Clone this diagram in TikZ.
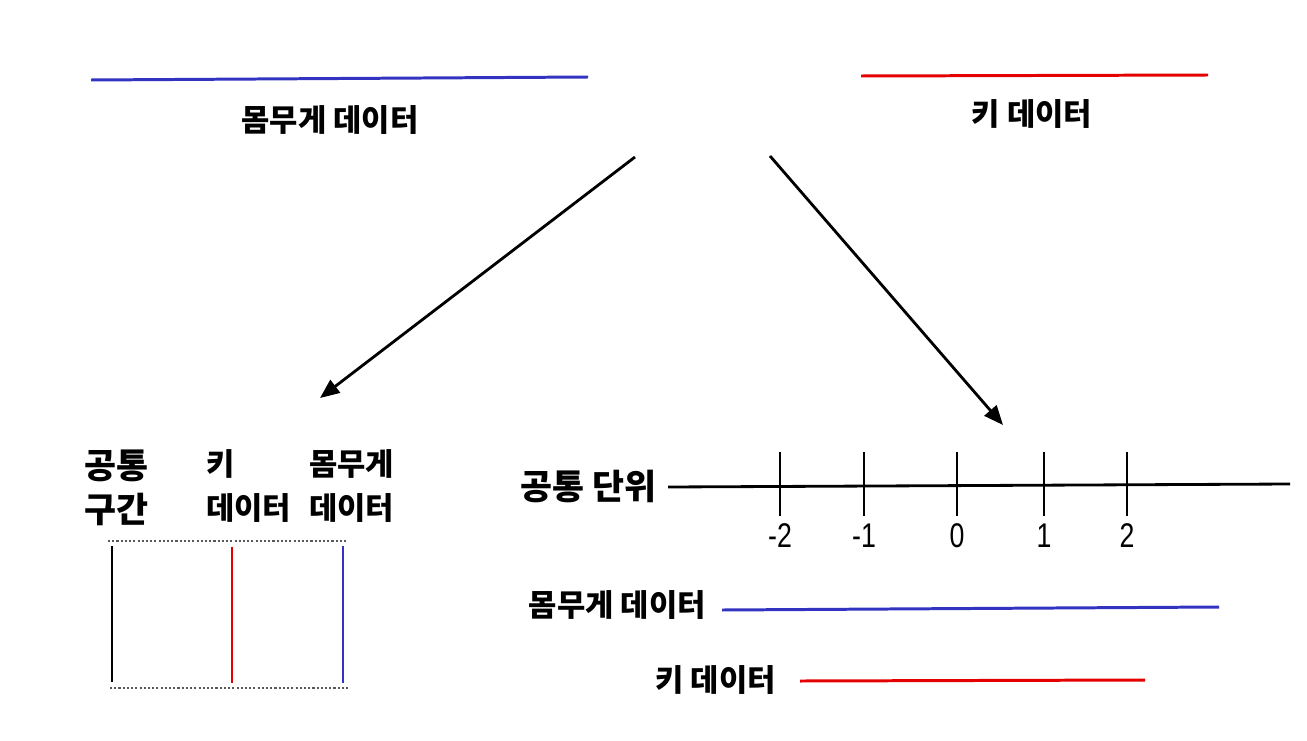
\documentclass[tikz,border=0pt]{standalone}
\usepackage{fontspec}
\setmainfont{Liberation Sans}
\newfontfamily\kor{Noto Sans CJK KR}
\newfontfamily\numfont[FakeStretch=0.78]{Liberation Sans}
\usetikzlibrary{positioning,arrows.meta}

\begin{document}
\begin{tikzpicture}[
  x=0.02cm, y=-0.02cm,
  lbl/.style={inner sep=0pt, font=\kor\bfseries\fontsize{17.5}{25}\selectfont, align=left},
  head/.style={inner sep=0pt, font=\kor\bfseries\fontsize{19.8}{25}\selectfont, align=left},
  num/.style={inner sep=0pt, font=\numfont\fontsize{19.5}{22}\selectfont},
  bluel/.style={draw=blue!70!black!80, line width=1.7pt},
  redl/.style={draw=red!90!black, line width=1.7pt},
  bound/.style={draw=black!65, line width=1.5pt, dash pattern=on 1.2pt off 1.2pt},
  tick/.style={draw, line width=0.9pt},
  arr/.style={-{Triangle[length=11pt,width=9pt]}, line width=1.6pt}
]
\useasboundingbox (0,0) rectangle (1307,740);

% source data
\coordinate (wA) at (91,80);   \coordinate (wB) at (588,77);
\coordinate (kA) at (861,76);  \coordinate (kB) at (1208,75);
\draw[bluel] (wA) -- (wB);
\draw[redl]  (kA) -- (kB);
\node[lbl] (wtop) at (330,120) {몸무게 데이터};
\node[lbl] (ktop) at (1032,114) {키 데이터};

% arrows
\coordinate (a1s) at (635,157); \coordinate (a1e) at (320,398);
\coordinate (a2s) at (770,156); \coordinate (a2e) at (1003,425);
\draw[arr] (a1s) -- (a1e);
\draw[arr] (a2s) -- (a2e);

% common interval
\node[head, anchor=west] (gap) at (84,488) {공통\\구간};
\node[lbl, anchor=west] (kcol) at (206,486) {키\\데이터};
\node[lbl, anchor=west] (wcol) at (309,486) {몸무게\\데이터};
\coordinate (bt1) at (108,541); \coordinate (bt2) at (346,541);
\coordinate (bb1) at (110,688); \coordinate (bb2) at (348,688);
\draw[bound] (bt1) -- (bt2);
\draw[bound] (bb1) -- (bb2);
\coordinate (c1t) at (112,546); \coordinate (c1b) at (112,682);
\coordinate (c2t) at (232,547); \coordinate (c2b) at (232,683);
\coordinate (c3t) at (343,546); \coordinate (c3b) at (343,683);
\draw[line width=1.6pt] (c1t) -- (c1b);
\draw[redl] (c2t) -- (c2b);
\draw[bluel] (c3t) -- (c3b);

% common unit
\node[head, anchor=east] (unit) at (657,486) {공통 단위};
\coordinate (axA) at (668,487); \coordinate (axB) at (1290,484);
\draw[line width=1.6pt] (axA) -- (axB);
\foreach \xx/\vv in {780/-2, 864/-1, 957/0, 1044/1, 1127/2} {
  \draw[tick] (\xx,452) -- (\xx,516);
  \node[num] (n\vv) at (\xx,536) {\vv};
}
\node[lbl, anchor=east] (wbot) at (706,605) {몸무게 데이터};
\coordinate (wC) at (722,610); \coordinate (wD) at (1219,607);
\draw[bluel] (wC) -- (wD);
\node[lbl, anchor=east] (kbot) at (776,680) {키 데이터};
\coordinate (kC) at (800,681); \coordinate (kD) at (1145,680);
\draw[redl] (kC) -- (kD);
\end{tikzpicture}
\end{document}
